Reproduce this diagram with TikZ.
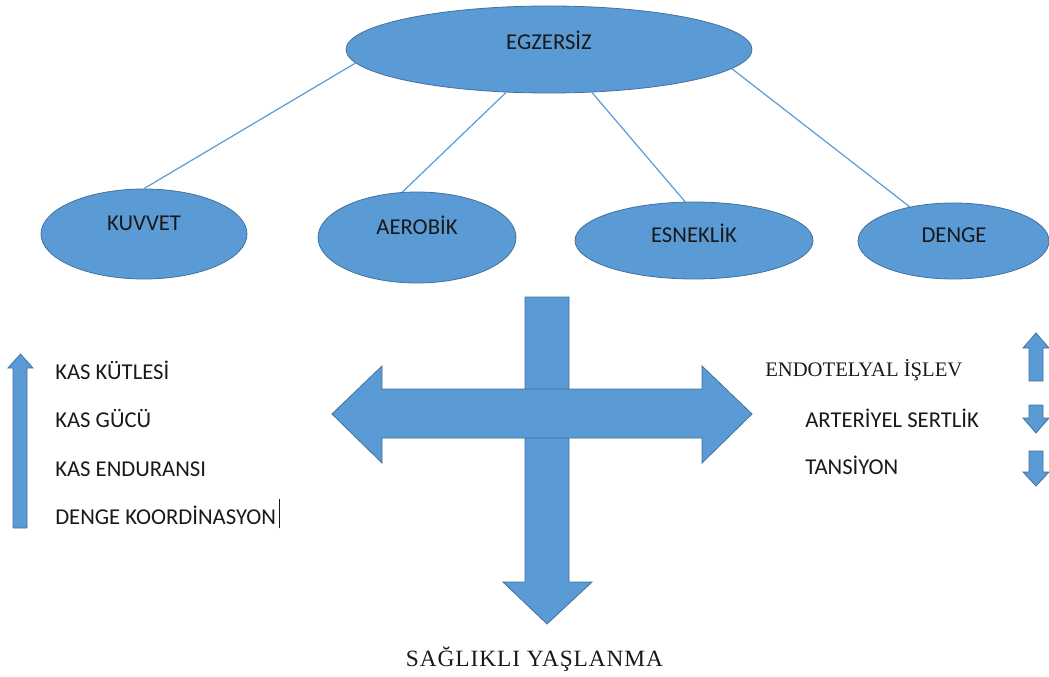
\documentclass[tikz,border=0pt]{standalone}
\usepackage{fontspec}
\setmainfont{Carlito}
\newfontfamily\serifface{Liberation Serif}
\usepackage{tikz}
\usetikzlibrary{shapes}

\definecolor{boxblue}{HTML}{5B9BD5}
\definecolor{edgeblue}{HTML}{41719C}

\tikzset{
  oval/.style={ellipse,draw=edgeblue,fill=boxblue,line width=0.6pt,inner sep=0pt},
  word/.style={font=\fontsize{17}{20}\selectfont,text=black!90,inner sep=0pt,text height=11pt,text depth=0pt},
  serifword/.style={font=\serifface\fontsize{15.5}{18}\selectfont,text=black!90,inner sep=0pt,text height=10.2pt,text depth=0pt},
  link/.style={boxblue,line width=0.9pt},
  bigarrow/.style={draw=edgeblue,fill=boxblue,line width=0.6pt},
}

\begin{document}
\begin{tikzpicture}[x=0.75pt,y=-0.75pt]
\useasboundingbox (0,0) rectangle (1049,677);
% ellipses
\node[oval,minimum width=304.5pt,minimum height=65.25pt](egz) at (549,49.5){};
\node[oval,minimum width=154.5pt,minimum height=67.5pt](kuvvet) at (144,234){};
\node[oval,minimum width=148.5pt,minimum height=68.25pt](aerobik) at (417,237.5){};
\node[oval,minimum width=178.5pt,minimum height=57.75pt](esneklik) at (694,240.5){};
\node[oval,minimum width=143.25pt,minimum height=57pt](denge) at (953.5,241){};
\node[word](egztxt) at (549,42){EGZERSİZ};
\node[word](kuvvettxt) at (144,223){KUVVET};
\node[word](aerobiktxt) at (417,227){AEROBİK};
\node[word](esnekliktxt) at (694,235){ESNEKLİK};
\node[word](dengetxt) at (954,235){DENGE};
% links
\draw[link](egz.184.6)--(kuvvet.90);
\draw[link](egz.225)--(aerobik.108);
\draw[link](egz.315)--(esneklik.103);
\draw[link](egz.354)--(denge.142);
% cross arrows
\draw[bigarrow](525,297)--(569,297)--(569,582)--(592,582)--(547,624)--(503,582)--(525,582)--cycle;
\draw[bigarrow](332,414)--(382,366)--(382,389)--(702,389)--(702,366)--(752,414)--(702,463)--(702,438)--(382,438)--(382,463)--cycle;
% left side
\draw[bigarrow](13,528)--(13,368)--(8,368)--(20.5,354)--(33,368)--(27,368)--(27,528)--cycle;
\node[word,anchor=west](kutle) at (55,372){KAS KÜTLESİ};
\node[word,anchor=west](guc) at (55,420){KAS GÜCÜ};
\node[word,anchor=west](endurans) at (55,469){KAS ENDURANSI};
\node[word,anchor=west](koord) at (55,517){DENGE KOORDİNASYON\hspace{2pt}\rule[-3pt]{0.7pt}{22pt}};
% right side
\node[serifword,anchor=west](endotel) at (765,370){ENDOTELYAL İŞLEV};
\node[word,anchor=west](arter) at (805,420){ARTERİYEL SERTLİK};
\node[word,anchor=west](tansiyon) at (805,467){TANSİYON};
\draw[bigarrow](1029,381)--(1029,348)--(1023,348)--(1036,333)--(1049,348)--(1043,348)--(1043,381)--cycle;
\draw[bigarrow](1029,405)--(1043,405)--(1043,418)--(1049,418)--(1036,433)--(1023,418)--(1029,418)--cycle;
\draw[bigarrow](1029,451)--(1043,451)--(1043,472)--(1049,472)--(1036,486)--(1023,472)--(1029,472)--cycle;
% bottom
\node[serifword,font=\serifface\fontsize{17.5}{20}\addfontfeature{LetterSpace=4}\selectfont,text height=11.4pt](saglikli) at (534.5,658.5){SAĞLIKLI YAŞLANMA};
\end{tikzpicture}
\end{document}
